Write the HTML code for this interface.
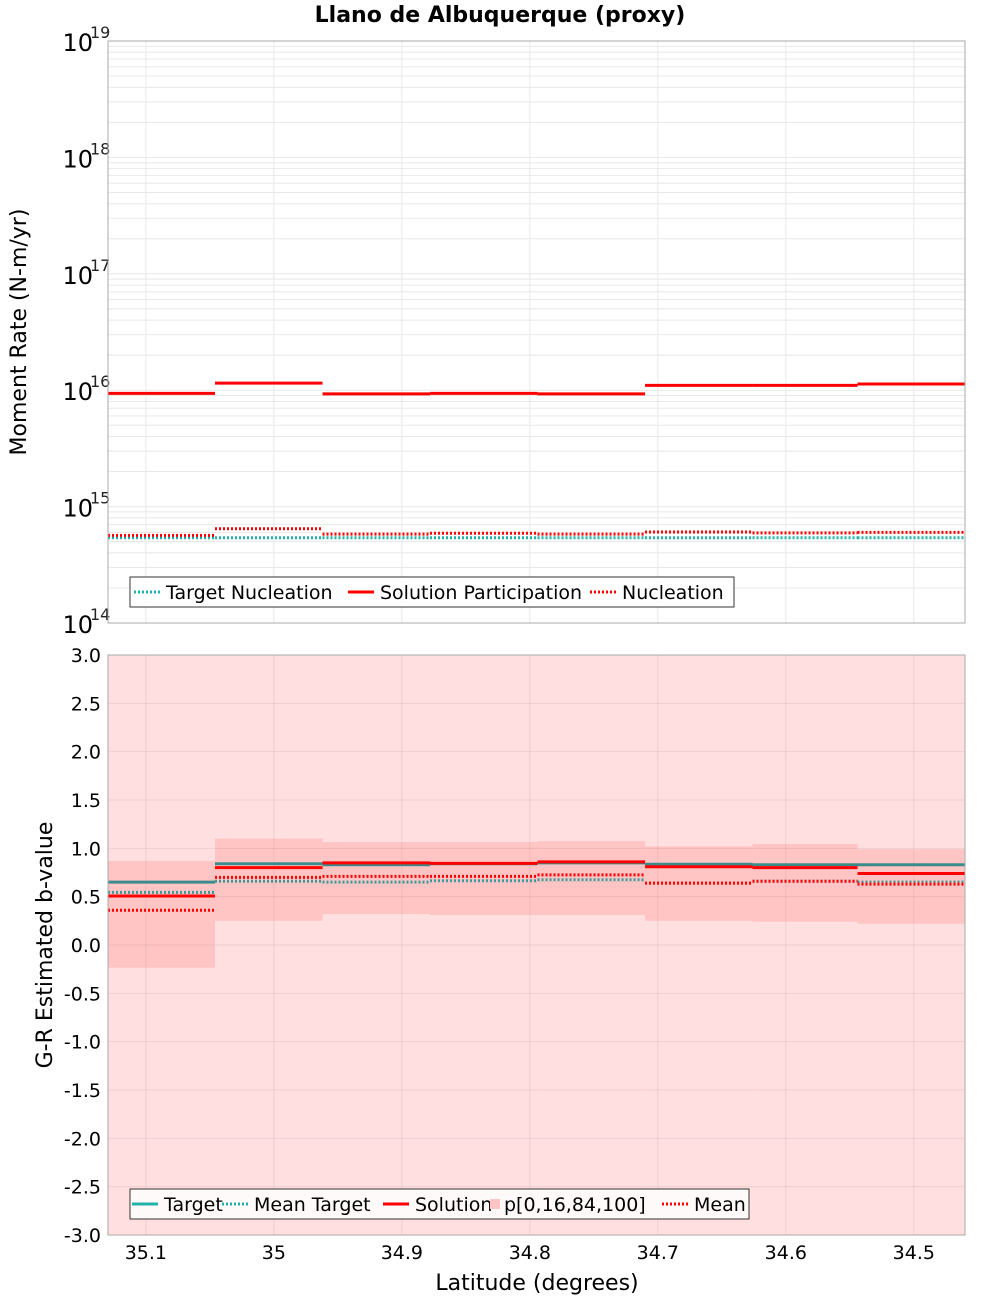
<!DOCTYPE html>
<html><head><meta charset="utf-8"><style>
body{margin:0;background:#fff;}
svg{display:block;font-family:"DejaVu Sans","Liberation Sans",sans-serif;}
</style></head><body>
<svg id="chart" width="1000" height="1300" viewBox="0 0 1000 1300" xmlns="http://www.w3.org/2000/svg">
<text x="500" y="22" text-anchor="middle" font-size="22" font-weight="bold">Llano de Albuquerque (proxy)</text>
<g id="topg"></g><g id="botg"></g>
<text transform="translate(26,332) rotate(-90)" text-anchor="middle" font-size="22">Moment Rate (N-m/yr)</text>
<text transform="translate(52,945) rotate(-90)" text-anchor="middle" font-size="22">G-R Estimated b-value</text>
<text x="537" y="1290" text-anchor="middle" font-size="22">Latitude (degrees)</text>
</svg>
<script>
const binEdges=[35.1296,35.046,34.962,34.878,34.794,34.710,34.626,34.544,34.460];
const xTicks=[35.1,35.0,34.9,34.8,34.7,34.6,34.5];
const xTickLabels=["35.1","35","34.9","34.8","34.7","34.6","34.5"];
const solutionParticipation=[9.4e15,1.15e16,9.3e15,9.4e15,9.3e15,1.1e16,1.1e16,1.13e16];
const nucleation=[5.66e14,6.45e14,5.8e14,5.9e14,5.8e14,6.05e14,5.95e14,6.0e14];
const targetNucleation=[5.4e14,5.4e14,5.4e14,5.4e14,5.4e14,5.4e14,5.4e14,5.4e14];
const bTarget=[0.65,0.84,0.83,0.84,0.85,0.835,0.83,0.83];
const bSolution=[0.507,0.80,0.85,0.845,0.86,0.81,0.80,0.74];
const bMeanTarget=[0.545,0.66,0.65,0.665,0.675,0.64,0.66,0.65];
const bMean=[0.36,0.70,0.71,0.71,0.725,0.64,0.66,0.63];
const bP16=[-0.235,0.25,0.32,0.31,0.31,0.25,0.24,0.22];
const bP84=[0.87,1.10,1.065,1.065,1.075,1.02,1.045,0.99];
const bP0=[-3.5,-3.5,-3.5,-3.5,-3.5,-3.5,-3.5,-3.5];
const bP100=[3.5,3.5,3.5,3.5,3.5,3.5,3.5,3.5];
const logTicks=[14,15,16,17,18,19];
const bTicks=[-3,-2.5,-2,-1.5,-1,-0.5,0,0.5,1,1.5,2,2.5,3];

const NS="http://www.w3.org/2000/svg";
const L=108,R=965,T1=41,B1=623,T2=655,B2=1235;
const xS=v=>L+(35.1296-v)/(35.1296-34.460)*(R-L);
const yTop=v=>B1-(Math.log10(v)-14)/5*(B1-T1);
const yBot=v=>B2-(v+3)/6*(B2-T2);
function mk(p,t,a){const e=document.createElementNS(NS,t);for(const k in a)e.setAttribute(k,a[k]);p.appendChild(e);return e;}
const topG=document.getElementById('topg'),botG=document.getElementById('botg');

const tbg=mk(topG,'rect',{x:L,y:T1,width:R-L,height:B1-T1,fill:'#fff'});


for(let d=14;d<19;d++)for(let m=1;m<=9;m++){const y=yTop(m*Math.pow(10,d));
 const g=mk(topG,'line',{x1:L,x2:R,y1:y,y2:y,stroke:'#e8e8e8','stroke-width':1});
 
 }
xTicks.forEach(t=>{const g=mk(topG,'line',{x1:xS(t),x2:xS(t),y1:T1,y2:B1,stroke:'#e8e8e8'});
 
 });
logTicks.forEach(d=>{const y=yTop(Math.pow(10,d));
 const t=mk(topG,'text',{x:93,y:y+10,'text-anchor':'end','font-size':24});t.textContent='10';
 
 
 const s=mk(topG,'text',{x:90,y:y-3,'font-size':16,fill:'#222'});s.textContent=String(d);
 
 });
function steps(p,arr,yf,color,w,dash,name){arr.forEach((v,i)=>{
 const a={x1:xS(binEdges[i]),x2:xS(binEdges[i+1]),y1:yf(v),y2:yf(v),stroke:color,'stroke-width':w};
 if(dash)a['stroke-dasharray']=dash;
 const l=mk(p,'line',a);
 
 });}
steps(topG,targetNucleation,yTop,'#20b2aa',3,'2,2','target-nucleation-segment');
steps(topG,nucleation,yTop,'#ff0000',3,'2,2','nucleation-segment');
steps(topG,solutionParticipation,yTop,'#ff0000',3,null,'solution-participation-segment');
const tf=mk(topG,'rect',{x:L,y:T1,width:R-L,height:B1-T1,fill:'none',stroke:'#aaa'});



const bbg=mk(botG,'rect',{x:L,y:T2,width:R-L,height:B2-T2,fill:'#fff'});


bP100.forEach((v,i)=>{const y1=yBot(Math.min(v,3)),y2=yBot(Math.max(bP0[i],-3));
 const r=mk(botG,'rect',{x:xS(binEdges[i]),y:y1,width:xS(binEdges[i+1])-xS(binEdges[i]),height:y2-y1,fill:'#ffdfdf'});
 
 });
bP84.forEach((v,i)=>{const y1=yBot(v),y2=yBot(bP16[i]);
 const r=mk(botG,'rect',{x:xS(binEdges[i]),y:y1,width:xS(binEdges[i+1])-xS(binEdges[i]),height:y2-y1,fill:'#ffc5c5'});
 
 });
bTicks.forEach(t=>{const y=yBot(t);
 const g=mk(botG,'line',{x1:L,x2:R,y1:y,y2:y,stroke:'rgba(0,0,0,0.07)'});
 
 
 const tx=mk(botG,'text',{x:101,y:y+7,'text-anchor':'end','font-size':19});tx.textContent=t.toFixed(1);
 
 });
xTicks.forEach((t,i)=>{const x=xS(t);
 const g=mk(botG,'line',{x1:x,x2:x,y1:T2,y2:B2,stroke:'rgba(0,0,0,0.07)'});
 
 
 const tx=mk(botG,'text',{x:x,y:1259,'text-anchor':'middle','font-size':19});tx.textContent=xTickLabels[i];
 
 });
steps(botG,bTarget,yBot,'#3a8c8c',3,null,'target-segment');
steps(botG,bMeanTarget,yBot,'#3a9a9a',3,'2,2','mean-target-segment');
steps(botG,bSolution,yBot,'#ff0000',3,null,'solution-segment');
steps(botG,bMean,yBot,'#ff0000',3,'2,2','mean-segment');
const bf=mk(botG,'rect',{x:L,y:T2,width:R-L,height:B2-T2,fill:'none',stroke:'#aaa'});



function legend(p,x,y,w,items,name){
 const g=mk(p,'g',{});
 
 
 mk(g,'rect',{x:x,y:y,width:w,height:30,fill:'#fff','fill-opacity':0.85,stroke:'#333'});
 items.forEach(it=>{
  const e=mk(g,'g',{});
  
  
  if(it.box){mk(e,'rect',{x:it.x+4,y:y+10,width:10,height:10,fill:'#ffc5c5'});}
  else{const a={x1:it.x,x2:it.x+26,y1:y+15,y2:y+15,stroke:it.c,'stroke-width':3};if(it.d)a['stroke-dasharray']='2,2';mk(e,'line',a);}
  const t=mk(e,'text',{x:it.x+(it.box?18:32),y:y+22,'font-size':19});t.textContent=it.t;});
}
legend(topG,130,577,604,[{x:134,c:'#20b2aa',d:1,t:'Target Nucleation'},{x:348,c:'#f00',t:'Solution Participation'},{x:590,c:'#f00',d:1,t:'Nucleation'}],'top-legend');
legend(botG,130,1189,619,[{x:132,c:'#20b2aa',t:'Target'},{x:222,c:'#20b2aa',d:1,t:'Mean Target'},{x:383,c:'#f00',t:'Solution'},{x:486,box:1,t:'p[0,16,84,100]'},{x:662,c:'#f00',d:1,t:'Mean'}],'bottom-legend');
</script>
</body></html>
